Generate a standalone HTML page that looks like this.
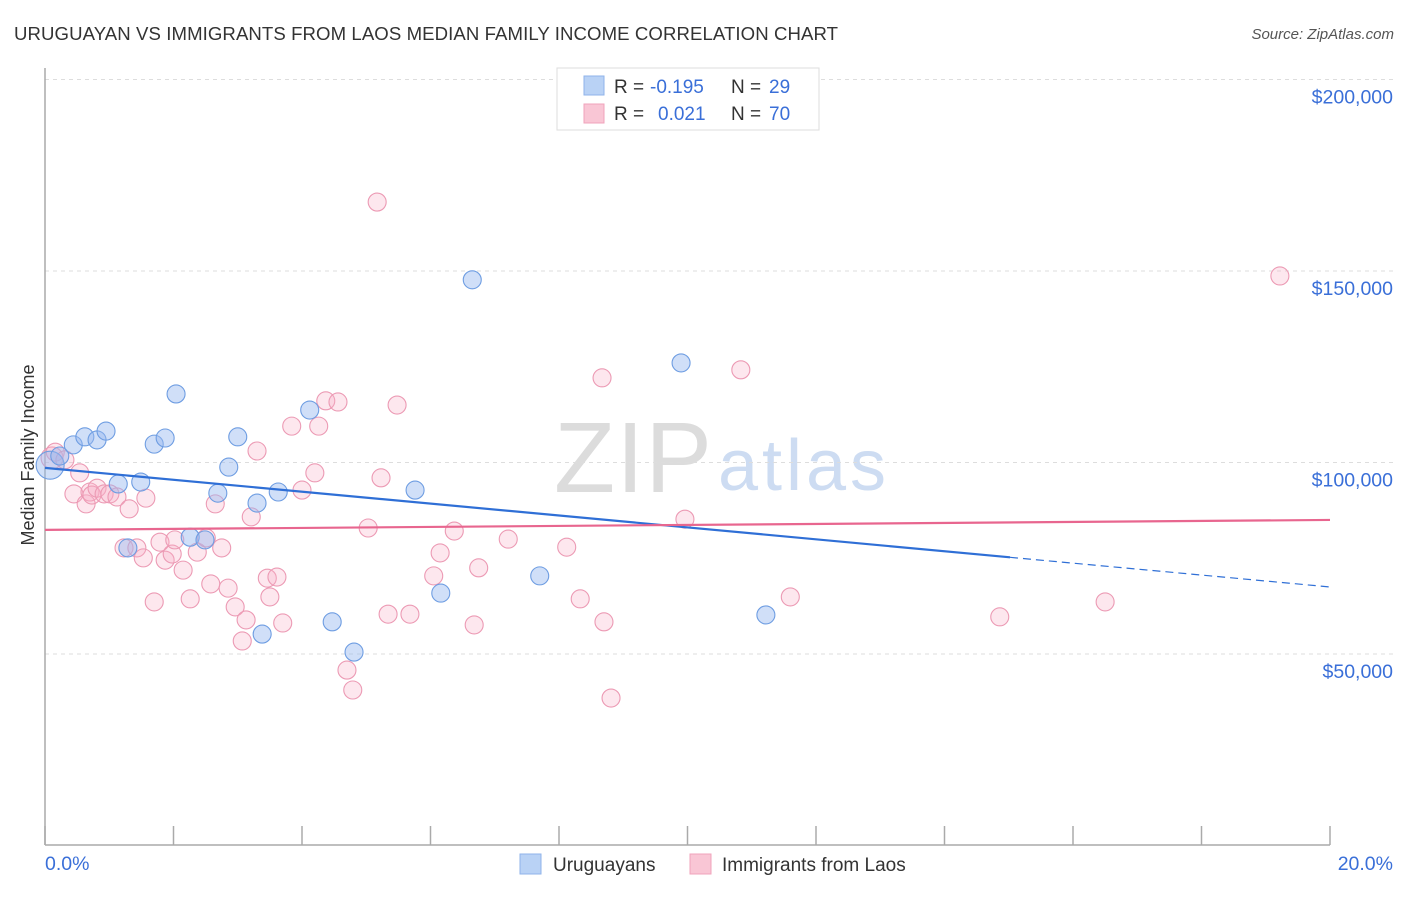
<!DOCTYPE html>
<html><head><meta charset="utf-8"><style>
body{margin:0;background:#fff;font-family:"Liberation Sans",sans-serif;}
svg text{font-family:"Liberation Sans",sans-serif;}
</style></head><body>
<svg width="1406" height="892" xmlns="http://www.w3.org/2000/svg">
<text x="14" y="40" font-size="18.6" fill="#333" textLength="824">URUGUAYAN VS IMMIGRANTS FROM LAOS MEDIAN FAMILY INCOME CORRELATION CHART</text>
<text x="1394" y="39" font-size="15" fill="#555" font-style="italic" text-anchor="end">Source: ZipAtlas.com</text>
<g>
<text x="712" y="492" font-size="100" fill="#dcdcdc" font-family="Liberation Serif" text-anchor="end" textLength="158">ZIP</text>
<text x="718" y="490" font-size="72" fill="#cddcf2" textLength="168">atlas</text>
</g>
<g id="grid"></g>
<g id="axes"></g>
<g id="marks"></g>
<text transform="translate(34,455) rotate(-90)" font-size="18" fill="#333" text-anchor="middle">Median Family Income</text>
<text x="45" y="870" font-size="19.5" fill="#3a6fd8">0.0%</text>
<text x="1393" y="870" font-size="19.5" fill="#3a6fd8" text-anchor="end">20.0%</text>
<g>
<rect x="557" y="68" width="262" height="62" fill="#fff" stroke="#ddd"/>
<rect x="584" y="76" width="20" height="19" fill="#b9d2f5" stroke="#8fb3ea"/>
<rect x="584" y="104" width="20" height="19" fill="#f9c6d5" stroke="#f0a3bb"/>
<text x="614" y="93" font-size="19" fill="#333">R = </text>
<text x="650" y="93" font-size="19" fill="#3a6fd8">-0.195</text>
<text x="731" y="93" font-size="19" fill="#333">N = </text>
<text x="769" y="93" font-size="19" fill="#3a6fd8">29</text>
<text x="614" y="120" font-size="19" fill="#333">R = </text>
<text x="658" y="120" font-size="19" fill="#3a6fd8">0.021</text>
<text x="731" y="120" font-size="19" fill="#333">N = </text>
<text x="769" y="120" font-size="19" fill="#3a6fd8">70</text>
</g>
<g>
<rect x="520" y="854" width="21" height="20" fill="#b9d2f5" stroke="#8fb3ea"/>
<text x="553" y="871" font-size="19" fill="#333">Uruguayans</text>
<rect x="690" y="854" width="21" height="20" fill="#f9c6d5" stroke="#f0a3bb"/>
<text x="722" y="871" font-size="19" fill="#333">Immigrants from Laos</text>
</g>
</svg>
<script>
const yTicks=[50000,100000,150000,200000];
const yTickLabels=["$50,000","$100,000","$150,000","$200,000"];
const xTicks=[0,2,4,6,8,10,12,14,16,18,20];
const blueX=[0.08,0.23,0.44,0.62,0.81,0.95,1.14,1.29,1.49,1.70,1.87,2.04,2.26,2.49,2.69,2.86,3.00,3.30,3.38,3.63,4.12,4.47,4.81,5.76,6.16,6.65,7.70,9.90,11.22];
const blueY=[99.3,101.7,104.6,106.7,105.9,108.2,94.4,77.7,94.9,104.8,106.4,117.9,80.5,79.8,92.0,98.8,106.7,89.4,55.2,92.3,113.7,58.4,50.5,92.8,65.9,147.7,70.4,126.0,60.2];
const pinkX=[0.11,0.16,0.31,0.45,0.54,0.64,0.70,0.73,0.81,0.92,1.01,1.12,1.23,1.31,1.43,1.53,1.57,1.70,1.79,1.87,1.98,2.02,2.15,2.26,2.37,2.51,2.58,2.65,2.75,2.85,2.96,3.07,3.13,3.21,3.30,3.46,3.50,3.61,3.70,3.84,4.00,4.20,4.26,4.37,4.56,4.70,4.79,5.03,5.17,5.23,5.34,5.48,5.68,6.05,6.15,6.37,6.68,6.75,7.21,8.12,8.33,8.67,8.70,8.81,9.96,10.83,11.60,14.86,16.50,19.22];
const pinkY=[101.2,102.7,100.7,91.8,97.3,89.2,92.3,91.5,93.3,91.8,91.8,91.0,77.7,87.9,77.7,75.1,90.7,63.6,79.2,74.5,76.1,79.8,71.9,64.4,76.6,80.3,68.3,89.2,77.7,67.2,62.3,53.4,58.9,85.8,103.0,69.8,64.9,70.1,58.1,109.5,92.8,97.3,109.5,116.1,115.8,45.8,40.6,82.9,168.0,96.0,60.4,115.0,60.4,70.4,76.4,82.1,57.6,72.5,80.0,77.9,64.4,122.1,58.4,38.5,85.2,124.2,64.9,59.7,63.6,148.7];
const blueTrend=[98.6,67.5], blueSolidEnd=15.02;
const pinkTrend=[82.4,85.0];
const NS="http://www.w3.org/2000/svg";
const X=p=>45+p/20*1285;
const Y=v=>654-(v-50000)/50000*191.5;
const Yk=k=>Y(k*1000);
function mk(tag,attrs,parent){const e=document.createElementNS(NS,tag);for(const k in attrs)e.setAttribute(k,attrs[k]);document.getElementById(parent).appendChild(e);return e;}
yTicks.forEach((t,i)=>{
 const l=mk('line',{x1:45,x2:1393,y1:Y(t),y2:Y(t),stroke:'#ddd','stroke-dasharray':'4,4'},'grid');
 
 
 const tx=mk('text',{x:1393,y:Y(t)+24,'font-size':19.5,fill:'#3a6fd8','text-anchor':'end'},'grid');
 tx.textContent=yTickLabels[i];
 
 
});
const ya=mk('line',{x1:45,x2:45,y1:68,y2:845,stroke:'#aaa','stroke-width':1.5},'axes');


const xa=mk('line',{x1:45,x2:1330,y1:845,y2:845,stroke:'#aaa','stroke-width':1.5},'axes');


xTicks.forEach(t=>{
 const l=mk('line',{x1:X(t),x2:X(t),y1:826,y2:845,stroke:'#aaa','stroke-width':1.5},'axes');
 
 
});
pinkX.forEach((x,i)=>{
 const c=mk('circle',{cx:X(x),cy:Yk(pinkY[i]),r:i===0?11:9,fill:'rgba(247,175,198,0.3)',stroke:'#ec9ab4','stroke-width':1.1},'marks');
 
 
});
blueX.forEach((x,i)=>{
 const c=mk('circle',{cx:X(x),cy:Yk(blueY[i]),r:i===0?14:9,fill:'rgba(150,185,240,0.45)',stroke:'#6e9de2','stroke-width':1.1},'marks');
 
 
});
const bAt=p=>blueTrend[0]+(blueTrend[1]-blueTrend[0])*p/20;
const b1=mk('line',{x1:X(0),y1:Yk(bAt(0)),x2:X(blueSolidEnd),y2:Yk(bAt(blueSolidEnd)),stroke:'#2f6fd6','stroke-width':2.2},'marks');


const b2=mk('line',{x1:X(blueSolidEnd),y1:Yk(bAt(blueSolidEnd)),x2:X(20),y2:Yk(bAt(20)),stroke:'#2f6fd6','stroke-width':1.2,'stroke-dasharray':'8,5'},'marks');


const p1=mk('line',{x1:X(0),y1:Yk(pinkTrend[0]),x2:X(20),y2:Yk(pinkTrend[1]),stroke:'#e8668f','stroke-width':2.2},'marks');


</script>
</body></html>
